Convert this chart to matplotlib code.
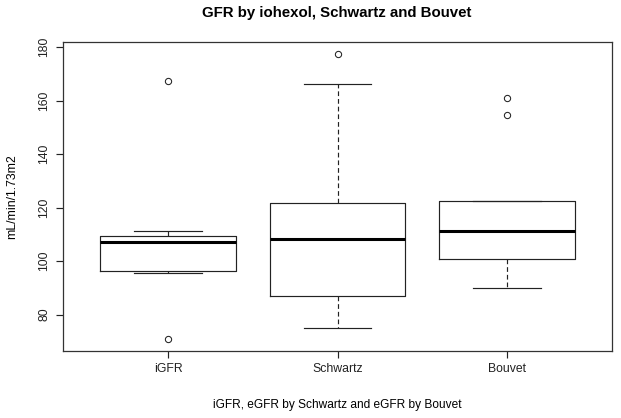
import matplotlib
matplotlib.use("Agg")
import matplotlib.pyplot as plt

plt.rcParams['font.family'] = ['Liberation Sans', 'DejaVu Sans']

categories = ["iGFR", "Schwartz", "Bouvet"]
whisker_low = [95.5, 75.1, 89.8]
q1 = [96.4, 87.0, 100.9]
median = [107.0, 108.3, 111.3]
q3 = [109.5, 121.6, 122.4]
whisker_high = [111.2, 166.2, 122.4]
outliers = [[167.4, 70.8], [177.5], [160.9, 154.6]]
y_ticks = [80, 100, 120, 140, 160, 180]

stats = []
for i, name in enumerate(categories):
    stats.append(dict(label=name, whislo=whisker_low[i], q1=q1[i], med=median[i],
                      q3=q3[i], whishi=whisker_high[i], fliers=outliers[i]))

fig = plt.figure(figsize=(6.21, 4.18), dpi=100)
ax = fig.add_axes([63/621, 1 - 351/418, (612 - 63)/621, (351 - 42)/418])

lc = '#222222'
ax.bxp(stats, positions=[1, 2, 3], widths=0.8, showfliers=True,
       boxprops=dict(color=lc, linewidth=0.85),
       medianprops=dict(color='black', linewidth=2.2),
       whiskerprops=dict(color=lc, linewidth=0.85, linestyle=(0, (4, 2.5))),
       capprops=dict(color=lc, linewidth=0.85),
       capwidths=0.4,
       flierprops=dict(marker='o', markerfacecolor='none', markeredgecolor=lc,
                       markersize=4.5, markeredgewidth=0.75))

ax.set_xlim(0.38, 3.62)
ax.set_ylim(66.4, 181.9)
ax.set_yticks(y_ticks)
ax.set_yticklabels([str(t) for t in y_ticks], rotation=90, va='center', fontsize=8.8)
ax.set_xticks([1, 2, 3])
ax.set_xticklabels(categories, fontsize=8.8)
ax.tick_params(direction='out', length=5, width=0.85, colors='#222222', pad=4)
for s in ax.spines.values():
    s.set_linewidth(0.9)
    s.set_color('#333333')

ax.set_ylabel("mL/min/1.73m2", fontsize=8.8, labelpad=15)
ax.set_xlabel("iGFR, eGFR by Schwartz and eGFR by Bouvet", fontsize=8.6, labelpad=17)
fig.text(337/621, 1 - 13/418, "GFR by iohexol, Schwartz and Bouvet", ha='center', va='center',
         fontsize=10.8, fontweight='bold')

fig.savefig("out.png", dpi=100)
